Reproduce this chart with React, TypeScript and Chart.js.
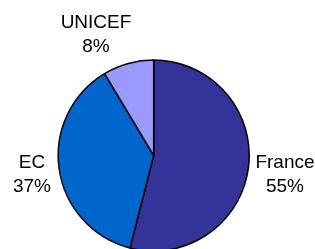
import React, { useEffect, useRef } from "react";
import { Chart, registerables } from "chart.js";

Chart.register(...registerables);

const categories = ["France", "EC", "UNICEF"];
const values = [54, 37.4, 8.6];
const percentLabels = ["55%", "37%", "8%"];
const colors = ["#333399", "#0066CC", "#9999FF"];
// label anchor points (text centre x, first-line baseline y)
const labelAnchors = [
  { x: 285, y: 168 },
  { x: 32, y: 168 },
  { x: 96, y: 28 },
];

const labelPlugin = {
  id: "sliceLabels",
  afterDraw(chart: any) {
    const ctx = chart.ctx;
    ctx.save();
    ctx.font = "19px 'Liberation Sans', Arial, sans-serif";
    ctx.fillStyle = "#000";
    ctx.textAlign = "center";
    ctx.textBaseline = "alphabetic";
    categories.forEach((c, i) => {
      const a = labelAnchors[i];
      ctx.fillText(c, a.x, a.y);
      ctx.fillText(percentLabels[i], a.x, a.y + 24);
    });
    ctx.restore();
  },
};

export default function App() {
  const ref = useRef<HTMLCanvasElement>(null);
  useEffect(() => {
    if (!ref.current) return;
    const chart = new Chart(ref.current, {
      type: "pie",
      data: {
        labels: categories,
        datasets: [
          {
            data: values,
            backgroundColor: colors,
            borderColor: "#000000",
            borderWidth: 1.5,
            radius: 95.5,
            clip: false as any,
          } as any,
        ],
      },
      options: {
        responsive: false,
        animation: false,
        layout: { padding: { left: 0, right: 7.6, top: 62, bottom: 0 } },
        plugins: {
          legend: { display: false },
          tooltip: { enabled: false },
        },
      },
      plugins: [labelPlugin],
    });
    return () => chart.destroy();
  }, []);
  return (
    <div style={{ position: "absolute", left: 0, top: 0, width: 315, height: 249, background: "#fff" }}>
      <canvas ref={ref} width={315} height={249} style={{ width: 315, height: 249 }} />
    </div>
  );
}
